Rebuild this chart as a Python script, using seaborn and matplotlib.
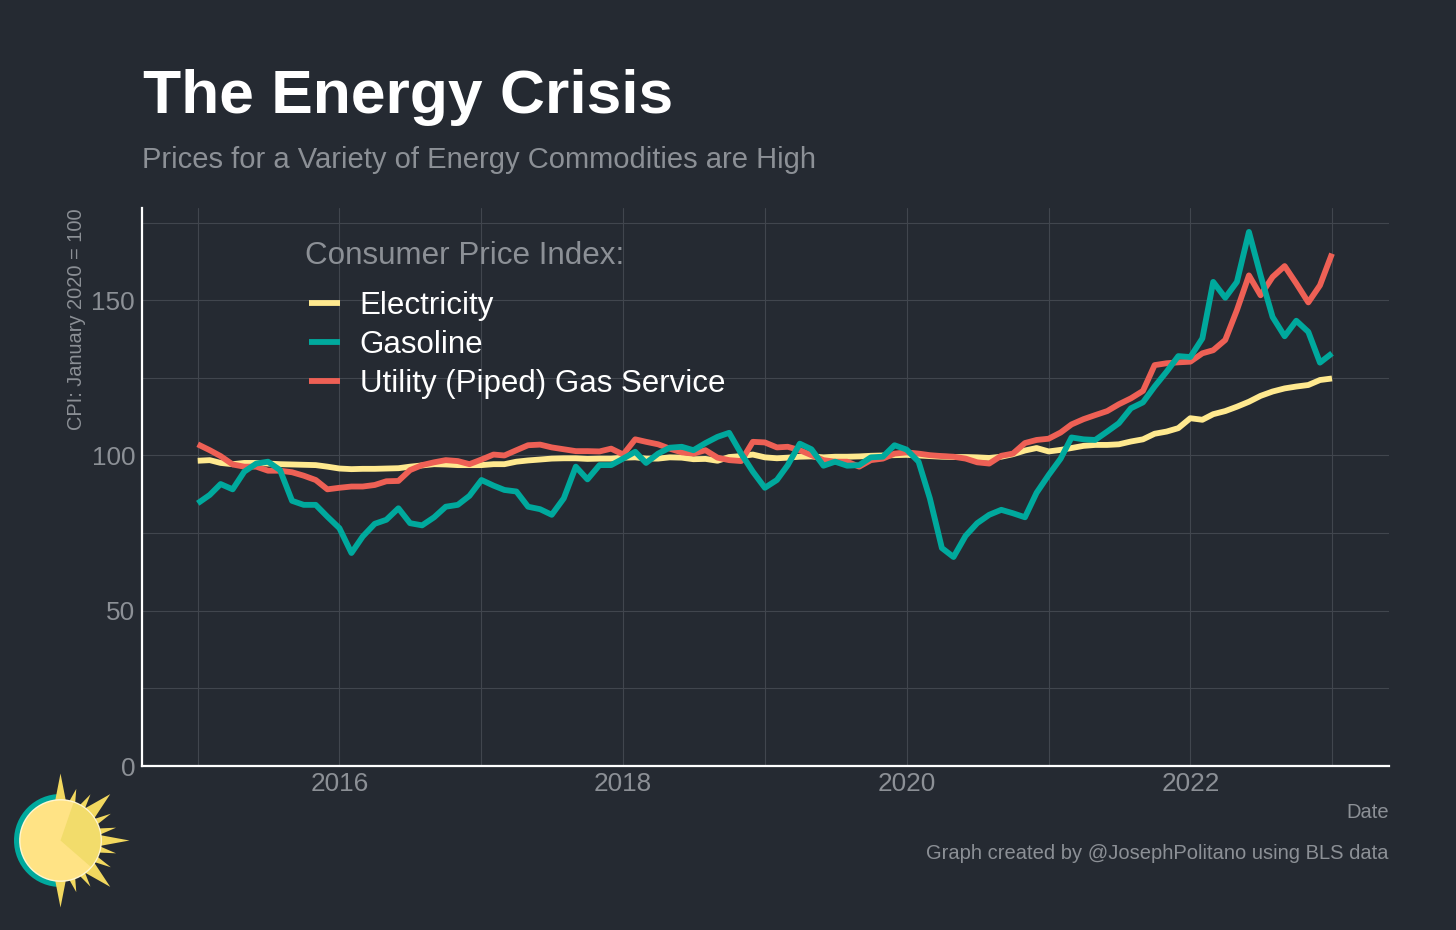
import numpy as np
import pandas as pd
import matplotlib
matplotlib.use("Agg")
import matplotlib.pyplot as plt
import matplotlib.dates as mdates
from matplotlib.patches import Circle, Wedge, Polygon
import seaborn as sns

# monthly CPI values, Jan 2015 - Jan 2023
electricity = [98.3, 98.5, 97.6, 97.2, 97.6, 97.6, 97.4, 97.2, 97.1, 97.0, 96.9, 96.4,
               95.8, 95.6, 95.7, 95.7, 95.8, 95.9, 96.4, 96.8, 97.2, 97.1, 96.9, 96.9,
               96.9, 97.2, 97.2, 98.0, 98.4, 98.7, 99.0, 99.1, 99.1, 98.9, 99.0, 99.0,
               99.3, 99.4, 99.0, 99.0, 99.4, 99.3, 98.8, 98.9, 98.3, 99.5, 99.8, 100.3,
               99.4, 99.1, 99.3, 99.6, 99.7, 99.4, 99.6, 99.6, 99.7, 99.9, 100.0, 100.1,
               100.2, 100.0, 99.8, 99.6, 99.5, 99.5, 99.4, 99.2, 99.6, 100.4, 101.6, 102.4,
               101.3, 101.8, 102.4, 103.1, 103.4, 103.4, 103.6, 104.5, 105.2, 107.0, 107.7, 108.8,
               112.0, 111.5, 113.3, 114.3, 115.7, 117.3, 119.2, 120.6, 121.6, 122.2, 122.7, 124.3,
               124.8]
gasoline = [84.6, 87.3, 90.8, 89.1, 94.8, 97.4, 98.0, 95.3, 85.4, 84.1, 84.1, 80.3,
            76.6, 68.6, 73.9, 78.0, 79.3, 83.0, 78.2, 77.5, 80.1, 83.5, 84.1, 87.0,
            92.1, 90.3, 88.9, 88.4, 83.5, 82.7, 80.9, 86.2, 96.4, 92.3, 96.9, 96.9,
            99.0, 101.2, 97.6, 100.6, 102.5, 102.8, 101.7, 104.0, 106.0, 107.3, 100.6, 94.8,
            89.6, 92.1, 96.9, 103.8, 102.0, 96.7, 98.0, 96.7, 96.9, 99.4, 99.6, 103.3,
            101.9, 98.0, 86.2, 70.2, 67.3, 74.1, 78.2, 80.9, 82.5, 81.4, 80.1, 88.0,
            93.7, 99.0, 105.8, 105.2, 105.0, 107.7, 110.4, 115.2, 117.1, 122.2, 127.0, 132.0,
            131.7, 137.7, 155.9, 150.8, 155.9, 172.0, 158.0, 144.6, 138.4, 143.4, 139.8, 129.9,
            132.9]
utility_gas = [103.6, 101.7, 99.8, 97.1, 96.4, 96.4, 95.1, 95.1, 94.6, 93.5, 92.1, 89.1,
               89.6, 90.0, 90.0, 90.5, 91.7, 91.8, 95.3, 96.9, 97.8, 98.5, 98.2, 97.2,
               98.7, 100.3, 100.0, 101.7, 103.3, 103.5, 102.6, 102.0, 101.4, 101.4, 101.3, 102.2,
               100.3, 105.2, 104.4, 103.6, 102.2, 101.0, 100.6, 101.7, 99.3, 98.5, 98.2, 104.4,
               104.2, 102.6, 102.8, 101.7, 100.1, 98.5, 98.0, 98.0, 96.4, 98.5, 99.0, 100.6,
               101.0, 100.6, 100.1, 99.8, 99.6, 99.0, 97.8, 97.4, 99.9, 100.6, 104.0, 105.0,
               105.4, 107.4, 110.0, 111.7, 113.0, 114.3, 116.5, 118.4, 120.8, 129.1, 129.7, 130.0,
               130.2, 132.9, 133.9, 137.2, 146.8, 158.0, 151.6, 157.5, 161.0, 155.4, 149.3, 154.8,
               165.0]
dates = pd.date_range("2015-01-01", "2023-01-01", freq="MS")
series_names = ["Electricity", "Gasoline", "Utility (Piped) Gas Service"]
series_colors = ["#FFE98F", "#00A99D", "#EE6055"]
y_ticks = [0, 50, 100, 150]
y_minor = [25, 75, 125, 175]
x_years = [2016, 2018, 2020, 2022]
x_minor_years = [2015, 2017, 2019, 2021, 2023]

BG = "#252A32"
GRAY = "#8C9096"
GRID = "#41464E"
W, H = 1456, 930
LW = 4.2

sns.set_theme(style="dark", rc={"figure.facecolor": BG, "axes.facecolor": BG})
plt.rcParams["font.family"] = ["Liberation Sans", "DejaVu Sans"]

df = pd.DataFrame({"Date": dates, "Electricity": electricity, "Gasoline": gasoline,
                   "Utility (Piped) Gas Service": utility_gas})
long_df = df.melt("Date", var_name="series", value_name="cpi")

fig = plt.figure(figsize=(W / 100, H / 100), dpi=100, facecolor=BG)
ax = fig.add_axes([142 / W, 1 - 766 / H, (1389 - 142) / W, (766 - 208) / H])

sns.lineplot(data=long_df, x="Date", y="cpi", hue="series", hue_order=series_names,
             palette=series_colors, linewidth=LW, ax=ax, solid_capstyle="butt",
             solid_joinstyle="round", legend=False)
# teal sits on top of the red line
ax.lines[0].set_zorder(3)
ax.lines[2].set_zorder(3.1)
ax.lines[1].set_zorder(3.2)

ax.set_xlim(mdates.date2num(pd.Timestamp("2015-01-01")) - 0.393 * 365.25,
            mdates.date2num(pd.Timestamp("2023-01-01")) + 0.402 * 365.25)
ax.set_ylim(0, 179.7)
ax.set_xticks([pd.Timestamp(f"{y}-01-01") for y in x_years])
ax.set_xticklabels([str(y) for y in x_years])
ax.set_xticks([pd.Timestamp(f"{y}-01-01") for y in x_minor_years], minor=True)
ax.set_yticks(y_ticks)
ax.set_yticks(y_minor, minor=True)
ax.grid(True, which="both", color=GRID, linewidth=0.8)
ax.set_axisbelow(True)
ax.tick_params(which="both", length=0)
ax.tick_params(axis="both", which="major", labelsize=18.8, labelcolor=GRAY)
ax.tick_params(axis="x", pad=4)
ax.tick_params(axis="y", pad=5)
ax.set_xlabel("")
ax.set_ylabel("")
for side in ["top", "right"]:
    ax.spines[side].set_visible(False)
for side in ["left", "bottom"]:
    ax.spines[side].set_color("white")
    ax.spines[side].set_linewidth(1.6)

# legend, title is a separate text because it sits left of the handles
handles = [plt.Line2D([], [], color=c, linewidth=LW, solid_capstyle="butt") for c in series_colors]
leg = ax.legend(handles, series_names, frameon=False, loc="upper left",
                bbox_to_anchor=(0.1336, 0.852), borderaxespad=0, borderpad=0,
                fontsize=22.5, handlelength=1.0, handletextpad=0.63, labelspacing=0.29)
for t in leg.get_texts():
    t.set_color("white")

# titles and notes
def px_text(x, y, s, **kw):
    fig.text(x / W, 1 - y / H, s, **kw)

px_text(143, 97, "The Energy Crisis", fontsize=44.9, fontweight="bold", color="white", va="center")
px_text(142, 160, "Prices for a Variety of Energy Commodities are High", fontsize=21, color=GRAY, va="center")
px_text(305, 256, "Consumer Price Index:", fontsize=22.6, color=GRAY, va="center")
px_text(76, 319, "CPI: January 2020 = 100", fontsize=14.4, color=GRAY, rotation=90, va="center", ha="center")
px_text(1389, 812, "Date", fontsize=14.5, color=GRAY, ha="right", va="center")
px_text(1389, 853, "Graph created by @JosephPolitano using BLS data", fontsize=14.5, color=GRAY, ha="right", va="center")

# sun logo, drawn in pixel coordinates on an overlay axes
logo = fig.add_axes([0, 0, 1, 1], facecolor="none")
logo.set_xlim(0, W)
logo.set_ylim(H, 0)
logo.axis("off")
cx, cy, r = 60.5, 840.5, 40
logo.add_patch(Wedge((cx, cy), 46.5, 90, 270, color="#00A99D", lw=0))
spikes = [(90, 67, 5.5), (73, 54, 3.3), (57, 55, 3.3), (43, 68, 7), (28, 57, 3.3), (13, 57, 3.3), (0, 69, 5.5)]
for ang, tip, half in spikes:
    for sign in ([1, -1] if ang else [1]):
        a = np.deg2rad(sign * ang)
        u = np.array([np.cos(a), -np.sin(a)])
        n = np.array([u[1], -u[0]])
        c = np.array([cx, cy])
        logo.add_patch(Polygon([c + u * (r - 1) + n * half, c + u * tip, c + u * (r - 1) - n * half],
                               closed=True, color="#F2D85F", lw=0))
logo.add_patch(Circle((cx, cy), r + 1.4, color="#FFF6D0", lw=0))
logo.add_patch(Circle((cx, cy), r, color="#FFE385", lw=0))
# y axis is flipped, so wedge angles run clockwise on screen
logo.add_patch(Wedge((cx, cy), r, -71, 41, color="#F2DC6B", lw=0))

fig.savefig("out.png", dpi=100, facecolor=BG)
